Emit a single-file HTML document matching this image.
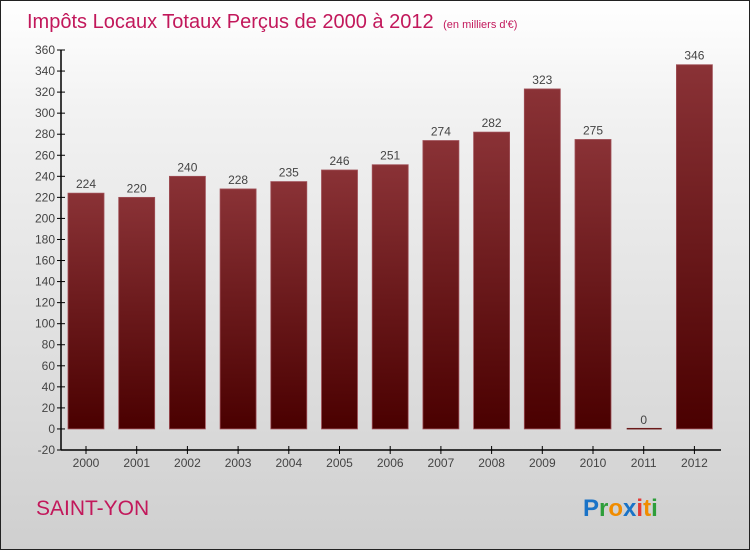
<!DOCTYPE html>
<html><head><meta charset="utf-8"><style>
body{margin:0}
#wrap{position:relative;width:748px;height:548px;border:1px solid #222;background:linear-gradient(#ffffff,#f2f2f2 20%,#d8d8d8 80%,#cfcfcf);font-family:"Liberation Sans",sans-serif;overflow:hidden}
</style></head><body>
<div id="wrap">
<svg width="748" height="548" id="svg">
<text x="26" y="27" font-size="20" fill="#c2185b">Impôts Locaux Totaux Perçus de 2000 à 2012 <tspan font-size="11" dx="4">(en milliers d'€)</tspan></text>
<text x="35" y="514" font-size="21" fill="#c2185b">SAINT-YON</text>
<text x="582" y="515" font-size="24" font-weight="bold"><tspan fill="#1a73c7">P</tspan><tspan fill="#2e9e3a">r</tspan><tspan fill="#f08c00">o</tspan><tspan fill="#1a73c7">x</tspan><tspan fill="#e53935">i</tspan><tspan fill="#f08c00">t</tspan><tspan fill="#2e9e3a">i</tspan></text>
<defs><linearGradient id="bg" x1="0" y1="0" x2="0" y2="1"><stop offset="0" stop-color="#8a3236"/><stop offset="1" stop-color="#4a0000"/></linearGradient></defs>
<g id="plot"></g>
</svg>
</div>
<script>
const years=["2000","2001","2002","2003","2004","2005","2006","2007","2008","2009","2010","2011","2012"];
const values=[224,220,240,228,235,246,251,274,282,323,275,0,346];
const yTicks=[-20,0,20,40,60,80,100,120,140,160,180,200,220,240,260,280,300,320,340,360];
const NS="http://www.w3.org/2000/svg";
const g=document.getElementById('plot');
const yMin=-20,yMax=360,pxTop=49,pxBot=449;
function y(v){return pxBot-(v-yMin)/(yMax-yMin)*(pxBot-pxTop);}
function x(i){return 85+i*50.7;}
function mk(t,a){const e=document.createElementNS(NS,t);for(const k in a)e.setAttribute(k,a[k]);g.appendChild(e);return e;}
let ax=mk('line',{x1:60,y1:pxTop,x2:60,y2:pxBot,stroke:'#000','stroke-width':1.5});


let bx=mk('line',{x1:60,y1:pxBot,x2:720,y2:pxBot,stroke:'#000','stroke-width':1.5});


yTicks.forEach(t=>{
 mk('line',{x1:56,y1:y(t),x2:64,y2:y(t),stroke:'#000'});
 const tx=mk('text',{x:54,y:y(t)+4,'text-anchor':'end','font-size':12,fill:'#444'});
 tx.textContent=t;
 
 
});
years.forEach((yr,i)=>{
 const v=values[i],cx=x(i);
 mk('line',{x1:cx,y1:pxBot-4,x2:cx,y2:pxBot+4,stroke:'#000'});
 const tl=mk('text',{x:cx,y:pxBot+17,'text-anchor':'middle','font-size':12,fill:'#444'});
 tl.textContent=yr;
 
 
 let b;
 if(v===0){b=mk('rect',{x:cx-17,y:y(0)-1,width:35,height:1.5,fill:'#6a1a1a'});}
 else{b=mk('rect',{x:cx-18,y:y(v),width:36,height:y(0)-y(v),fill:'url(#bg)',stroke:'#a05058','stroke-width':0.8});}
 
 
 const vl=mk('text',{x:cx,y:y(v)-5,'text-anchor':'middle','font-size':12,fill:'#444'});
 vl.textContent=v;
 
 
});
</script>
</body></html>
